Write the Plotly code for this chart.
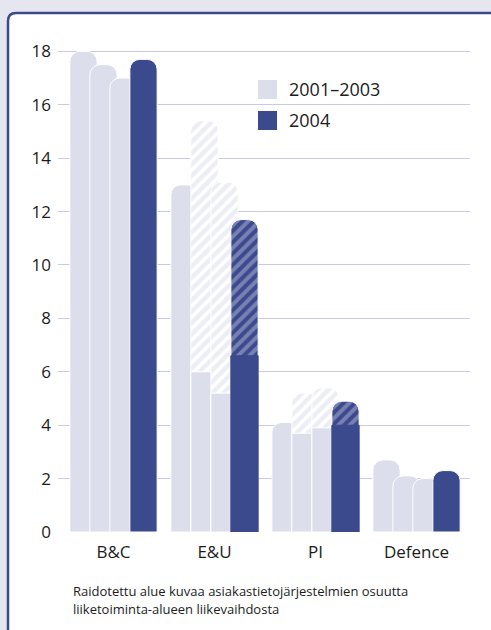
import plotly.graph_objects as go

categories = ["B&C", "E&U", "PI", "Defence"]
series_names = ["2001–2003", "2004"]
# per category, four bars: three years 2001-2003 (light) and 2004 (dark)
solid_values = [
    [18.0, 17.5, 17.0, 17.7],
    [13.0, 6.0, 5.2, 6.6],
    [4.1, 3.7, 3.9, 4.0],
    [2.7, 2.1, 2.0, 2.3],
]
total_values = [
    [18.0, 17.5, 17.0, 17.7],
    [13.0, 15.4, 13.1, 11.7],
    [4.1, 5.2, 5.4, 4.9],
    [2.7, 2.1, 2.0, 2.3],
]
y_ticks = [0, 2, 4, 6, 8, 10, 12, 14, 16, 18]
caption_lines = [
    "Raidotettu alue kuvaa asiakastietojärjestelmien osuutta",
    "liiketoiminta-alueen liikevaihdosta",
]

LIGHT = "#dcdeec"
DARK = "#3a4a8d"
STRIPE_ON_DARK = "#b3b8d7"
GRID = "#c9c9e2"
TEXT = "#1c1c1c"
OUTER_BG = "#e6e6f0"
FONT = "Open Sans"

bar_offsets = [-0.297, -0.099, 0.099, 0.297]
bar_width = 0.27
radius = 10

fig = go.Figure()
for g, cat in enumerate(categories):
    for i in range(4):
        x = g + bar_offsets[i]
        solid = solid_values[g][i]
        total = total_values[g][i]
        color = DARK if i == 3 else LIGHT
        if total > solid:
            if i == 3:
                pat = dict(shape="/", fgcolor=STRIPE_ON_DARK, bgcolor=DARK,
                           size=8, solidity=0.5, fillmode="overlay")
            else:
                pat = dict(shape="/", fgcolor=LIGHT, bgcolor="white",
                           size=8, solidity=0.55, fillmode="overlay")
            # hatched (full height, rounded top) drawn first
            fig.add_trace(go.Bar(
                x=[x], y=[total], width=[bar_width],
                marker=dict(color="white", pattern=pat,
                            line=dict(color="white", width=1),
                            cornerradius=radius),
                hoverinfo="skip", showlegend=False,
            ))
            edge = DARK if i == 3 else "white"
            fig.add_trace(go.Bar(
                x=[x], y=[solid], width=[bar_width],
                marker=dict(color=color, line=dict(color=edge, width=1),
                            cornerradius=0),
                hoverinfo="skip", showlegend=False,
            ))
        else:
            fig.add_trace(go.Bar(
                x=[x], y=[solid], width=[bar_width],
                marker=dict(color=color, line=dict(color="white", width=1),
                            cornerradius=radius),
                hoverinfo="skip", showlegend=False,
            ))

# pixel -> paper helpers (plot area: x 58..470, y 38..532)
L, R, T, B = 58, 470, 38, 532
def px(xp):
    return (xp - L) / (R - L)
def py(yp):
    return (B - yp) / (B - T)

shapes = []
# rounded panel border
l, t, r_, b_ = 8, 13, 497, 640
cr = 8
path = (f"M {px(l)},{py(b_)} L {px(l)},{py(t + cr)} "
        f"Q {px(l)},{py(t)} {px(l + cr)},{py(t)} "
        f"L {px(r_)},{py(t)} L {px(r_)},{py(b_)} Z")
shapes.append(dict(type="path", xref="paper", yref="paper", path=path,
                   fillcolor="white", line=dict(color=DARK, width=2.5),
                   layer="below"))
# legend swatches
for k, (col, y0) in enumerate([(LIGHT, 80), (DARK, 111)]):
    shapes.append(dict(type="rect", xref="paper", yref="paper",
                       x0=px(258), x1=px(277), y0=py(y0 + 19), y1=py(y0),
                       fillcolor=col, line=dict(width=0), layer="above"))

annotations = []
for k, (name, yc) in enumerate(zip(series_names, [89, 120])):
    annotations.append(dict(xref="paper", yref="paper", x=px(287), y=py(yc),
                            text=name, showarrow=False, xanchor="left",
                            yanchor="middle",
                            font=dict(family=FONT, size=18, color=TEXT)))
for line, yc in zip(caption_lines, [591, 609]):
    annotations.append(dict(xref="paper", yref="paper", x=px(71), y=py(yc),
                            text=line, showarrow=False, xanchor="left",
                            yanchor="middle",
                            font=dict(family=FONT, size=13, color=TEXT)))

fig.update_layout(
    width=491, height=630,
    margin=dict(l=L, r=491 - R, t=T, b=630 - B, pad=0),
    barmode="overlay",
    paper_bgcolor=OUTER_BG,
    plot_bgcolor="white",
    shapes=shapes,
    annotations=annotations,
    font=dict(family=FONT, color=TEXT),
    xaxis=dict(range=[-0.5495, 3.5297], tickvals=list(range(len(categories))),
               ticktext=categories, showgrid=False, zeroline=False,
               showline=False, ticks="", tickfont=dict(size=17, color=TEXT),
               ticklabelstandoff=8, fixedrange=True),
    yaxis=dict(range=[0, 18.5], tickvals=y_ticks, showgrid=True,
               gridcolor=GRID, gridwidth=1, zeroline=False, showline=False,
               ticks="", tickfont=dict(size=17, color=TEXT),
               ticklabelstandoff=6, fixedrange=True),
)

fig.write_html(
    "out.html",
    config={"displayModeBar": False},
    post_script="document.body.style.margin='0';document.body.style.overflow='hidden';",
)
